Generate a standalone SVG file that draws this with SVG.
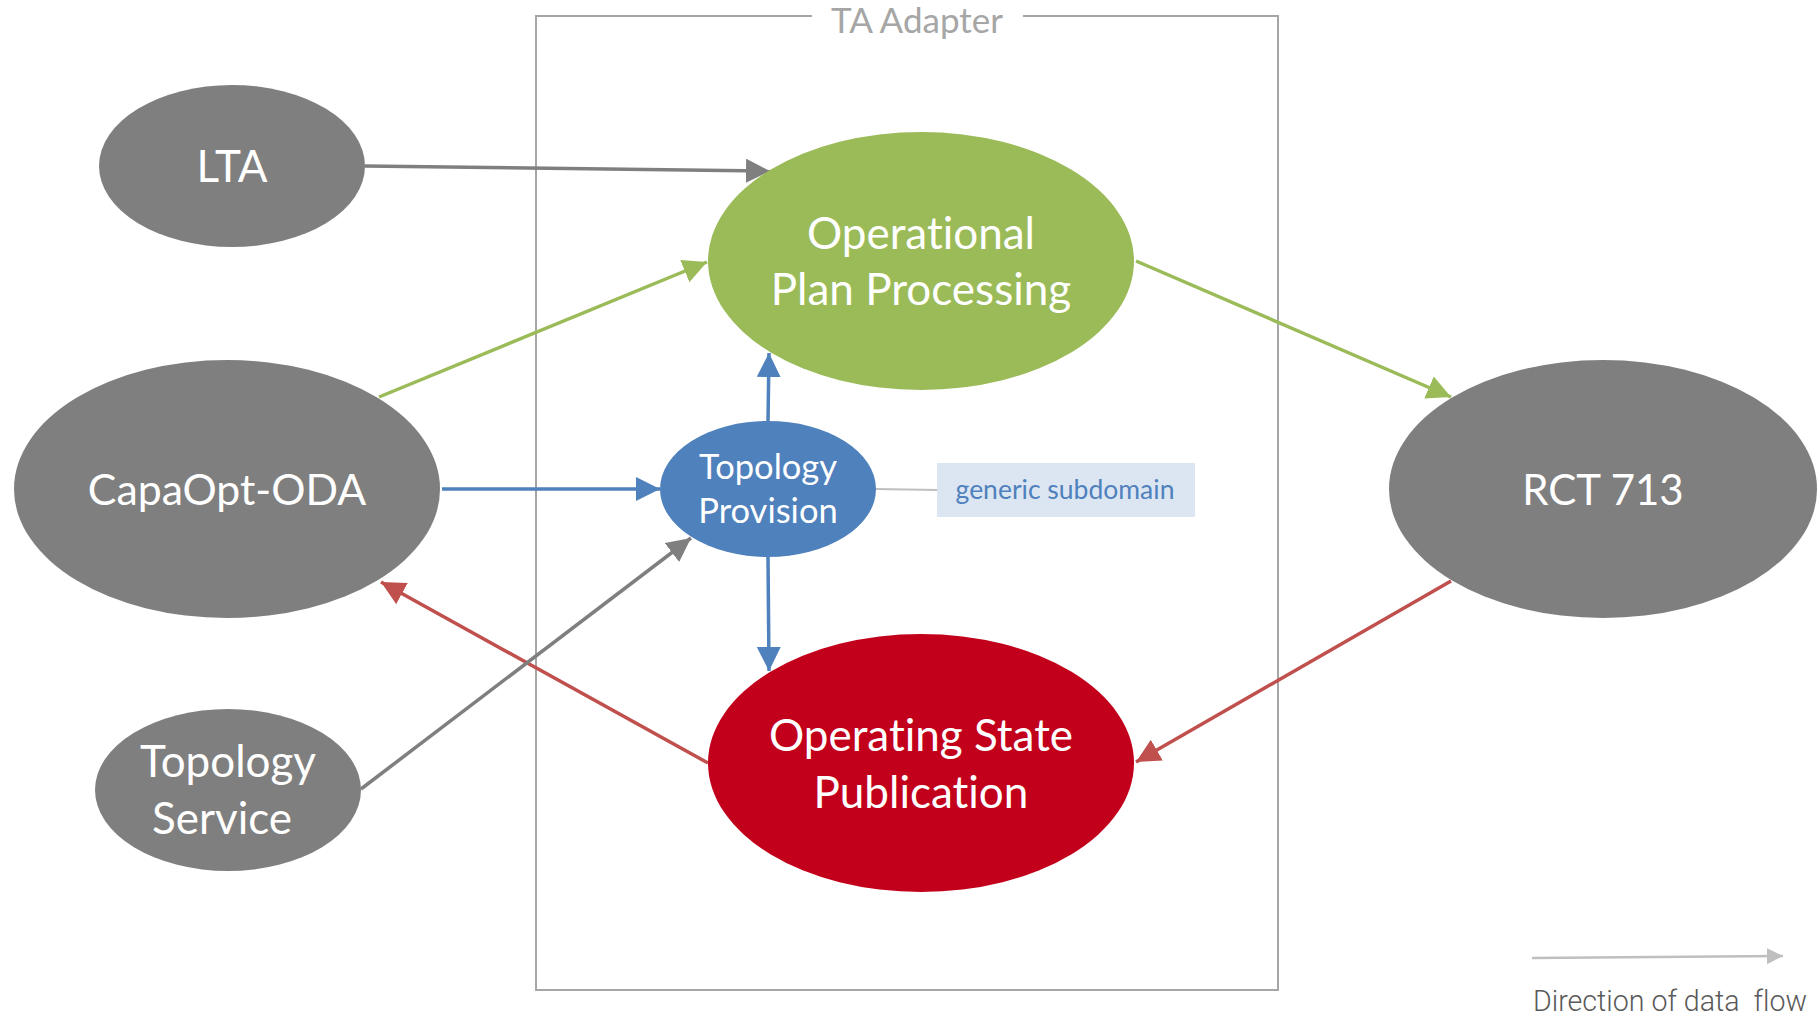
<svg xmlns="http://www.w3.org/2000/svg" width="1819" height="1017" viewBox="0 0 1819 1017">
  <style>
    text { font-variant-ligatures: none; }
    .lbl { font-family: Lato, "Open Sans", sans-serif; fill: #ffffff; text-anchor: middle; }
    .big { font-size: 44px; }
    .mid { font-size: 34.5px; }
    .grey { fill: #7f7f7f; }
    .edge { fill: none; stroke-width: 3.5; }
    .e-grey { stroke: #7f7f7f; }
    .e-green { stroke: #9bbb59; }
    .e-blue { stroke: #4f81bd; }
    .e-red { stroke: #c0504d; }
  </style>
  <defs>
    <marker id="ah-grey" markerUnits="userSpaceOnUse" markerWidth="26" markerHeight="26" refX="24" refY="12" orient="auto">
      <path d="M0,0 L24,12 L0,24 z" fill="#7f7f7f"/>
    </marker>
    <marker id="ah-green" markerUnits="userSpaceOnUse" markerWidth="26" markerHeight="26" refX="24" refY="12" orient="auto">
      <path d="M0,0 L24,12 L0,24 z" fill="#9bbb59"/>
    </marker>
    <marker id="ah-blue" markerUnits="userSpaceOnUse" markerWidth="26" markerHeight="26" refX="24" refY="12" orient="auto">
      <path d="M0,0 L24,12 L0,24 z" fill="#4f81bd"/>
    </marker>
    <marker id="ah-red" markerUnits="userSpaceOnUse" markerWidth="26" markerHeight="26" refX="24" refY="12" orient="auto">
      <path d="M0,0 L24,12 L0,24 z" fill="#c0504d"/>
    </marker>
    <marker id="ah-legend" markerUnits="userSpaceOnUse" markerWidth="18" markerHeight="18" refX="16" refY="8" orient="auto">
      <path d="M0,0 L16,8 L0,16 z" fill="#bfbfbf"/>
    </marker>
  </defs>

  <rect width="1819" height="1017" fill="#ffffff"/>

  <!-- TA Adapter boundary with a gap for its title -->
  <g id="ta-adapter">
    <path d="M812,16 H536 V990 H1278 V16 H1023" fill="none" stroke="#a6a6a6" stroke-width="2"/>
    <text x="917" y="33" font-family="Lato, 'Open Sans', sans-serif" font-size="35" fill="#a6a6a6" text-anchor="middle">TA Adapter</text>
  </g>

  <!-- data flows -->
  <g id="connectors">
    <line class="edge e-grey" x1="365" y1="166" x2="770" y2="171" stroke-width="4" marker-end="url(#ah-grey)"/>
    <line class="edge e-green" x1="379" y1="397" x2="707" y2="262" marker-end="url(#ah-green)"/>
    <line class="edge e-green" x1="1136" y1="261" x2="1451" y2="397" marker-end="url(#ah-green)"/>
    <line class="edge e-red" x1="1451" y1="581" x2="1136" y2="762" marker-end="url(#ah-red)"/>
    <line class="edge e-red" x1="708" y1="763" x2="381" y2="582" marker-end="url(#ah-red)"/>
    <line class="edge e-grey" x1="361" y1="789" x2="691" y2="538" marker-end="url(#ah-grey)"/>
    <line class="edge e-blue" x1="442" y1="489" x2="660" y2="489" marker-end="url(#ah-blue)"/>
    <line class="edge e-blue" x1="768" y1="421" x2="769" y2="353" marker-end="url(#ah-blue)"/>
    <line class="edge e-blue" x1="768" y1="557" x2="769" y2="671" marker-end="url(#ah-blue)"/>
    <line x1="876" y1="489" x2="937" y2="490" stroke="#bfbfbf" stroke-width="2"/>
  </g>

  <g id="lta">
    <ellipse class="grey" cx="232" cy="166" rx="133" ry="81"/>
    <text class="lbl big" x="232" y="182">LTA</text>
  </g>

  <g id="capaopt-oda">
    <ellipse class="grey" cx="227" cy="489" rx="213" ry="129"/>
    <text class="lbl" x="227" y="505" font-size="42.8">CapaOpt-ODA</text>
  </g>

  <g id="topology-service">
    <ellipse class="grey" cx="228" cy="790" rx="133" ry="81"/>
    <text class="lbl big" x="228" y="777">Topology</text>
    <text class="lbl big" x="222" y="834">Service</text>
  </g>

  <g id="operational-plan-processing">
    <ellipse cx="921" cy="261" rx="213" ry="129" fill="#9bbb59"/>
    <text class="lbl big" x="921" y="249">Operational</text>
    <text class="lbl big" x="921" y="305">Plan Processing</text>
  </g>

  <g id="topology-provision">
    <ellipse cx="768" cy="489" rx="108" ry="68" fill="#4f81bd"/>
    <text class="lbl mid" x="768" y="479">Topology</text>
    <text class="lbl mid" x="768" y="523">Provision</text>
  </g>

  <g id="generic-subdomain">
    <rect x="937" y="463" width="258" height="54" fill="#dce6f2"/>
    <text x="1065" y="499" font-family="Lato, 'Open Sans', sans-serif" font-size="26.5" fill="#4f81bd" text-anchor="middle">generic subdomain</text>
  </g>

  <g id="operating-state-publication">
    <ellipse cx="921" cy="763" rx="213" ry="129" fill="#c3001b"/>
    <text class="lbl big" x="921" y="751">Operating State</text>
    <text class="lbl big" x="921" y="808">Publication</text>
  </g>

  <g id="rct-713">
    <ellipse class="grey" cx="1603" cy="489" rx="214" ry="129"/>
    <text class="lbl" x="1603" y="505" font-size="42">RCT 713</text>
  </g>

  <!-- legend -->
  <g id="legend">
    <line x1="1532" y1="958" x2="1783" y2="956" stroke="#bfbfbf" stroke-width="2.5" marker-end="url(#ah-legend)"/>
    <text x="1533" y="1011" font-family="Roboto, 'Liberation Sans', sans-serif" font-weight="300" font-size="28.6" fill="#595959" xml:space="preserve">Direction of data  flow</text>
  </g>
</svg>
